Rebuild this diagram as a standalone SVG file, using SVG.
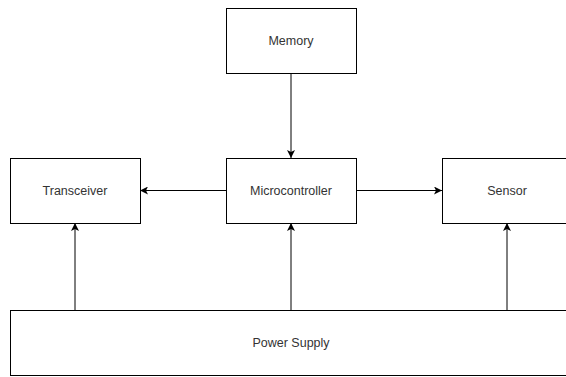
<svg xmlns="http://www.w3.org/2000/svg" width="566" height="377" viewBox="0 0 566 377">
<style>
.box{fill:#fff;stroke:#000;stroke-width:1}
.lbl{font-family:"Liberation Sans",Arial,sans-serif;font-size:12.5px;fill:#333;text-anchor:middle}
.edge{fill:none;stroke:#000;stroke-width:1}
</style>
<defs>
<marker id="arr" viewBox="0 0 10 10" refX="10" refY="5" markerWidth="8" markerHeight="8" markerUnits="userSpaceOnUse" orient="auto">
<path d="M0,0 L10,5 L0,10 L2.5,5 Z" fill="#000"/>
</marker>
</defs>
<rect width="566" height="377" fill="#fff"/>
<g id="connectors">
<line class="edge" x1="291" y1="73" x2="291" y2="158" marker-end="url(#arr)"/>
<line class="edge" x1="226" y1="190.5" x2="140" y2="190.5" marker-end="url(#arr)"/>
<line class="edge" x1="356" y1="190.5" x2="442" y2="190.5" marker-end="url(#arr)"/>
<line class="edge" x1="75" y1="310" x2="75" y2="223" marker-end="url(#arr)"/>
<line class="edge" x1="291" y1="310" x2="291" y2="223" marker-end="url(#arr)"/>
<line class="edge" x1="507" y1="310" x2="507" y2="223" marker-end="url(#arr)"/>
</g>
<g id="memory">
<rect class="box" x="226.5" y="8.5" width="130" height="65"/>
<text class="lbl" x="291" y="45">Memory</text>
</g>
<g id="transceiver">
<rect class="box" x="10.5" y="158.5" width="130" height="65"/>
<text class="lbl" x="75" y="195">Transceiver</text>
</g>
<g id="microcontroller">
<rect class="box" x="226.5" y="158.5" width="130" height="65"/>
<text class="lbl" x="291" y="195">Microcontroller</text>
</g>
<g id="sensor">
<rect class="box" x="442.5" y="158.5" width="130" height="65"/>
<text class="lbl" x="507" y="195">Sensor</text>
</g>
<g id="power-supply">
<rect class="box" x="10.5" y="310.5" width="562" height="65"/>
<text class="lbl" x="291" y="347">Power Supply</text>
</g>
</svg>
